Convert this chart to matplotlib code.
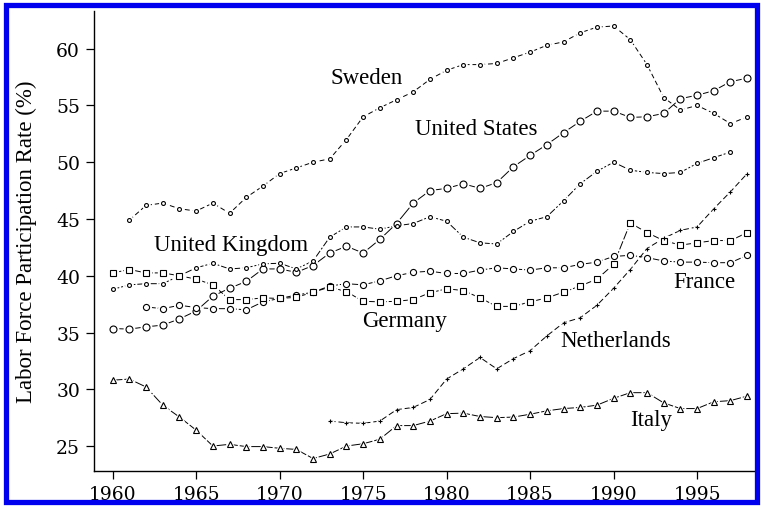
import matplotlib
matplotlib.use("Agg")
import matplotlib.pyplot as plt
from matplotlib.patches import Rectangle

plt.rcParams['font.family'] = ['Liberation Serif', 'DejaVu Serif']

# anni
years_60 = list(range(1960, 1999))
years_61 = list(range(1961, 1999))
years_62 = list(range(1962, 1999))
years_73 = list(range(1973, 1999))
years_uk = list(range(1960, 1998))

sweden = [44.9, 46.2, 46.4, 45.9, 45.7, 46.4, 45.5, 46.9, 47.9, 49.0,
          49.5, 50.0, 50.3, 52.0, 54.0, 54.8, 55.5, 56.2, 57.3, 58.1,
          58.6, 58.6, 58.7, 59.2, 59.7, 60.3, 60.6, 61.4, 61.9, 62.0,
          60.8, 58.6, 55.7, 54.6, 55.0, 54.3, 53.4, 54.0]
us = [35.35, 35.3, 35.5, 35.65, 36.2, 36.9, 38.2, 38.9, 39.5, 40.6,
      40.6, 40.3, 40.9, 42.0, 42.6, 42.0, 43.2, 44.6, 46.4, 47.5,
      47.7, 48.1, 47.7, 48.2, 49.6, 50.6, 51.55, 52.6, 53.6, 54.5,
      54.5, 53.95, 54.0, 54.3, 55.6, 55.9, 56.3, 57.1, 57.4]
uk = [38.8, 39.2, 39.3, 39.3, 40.0, 40.7, 41.1, 40.6, 40.7, 41.05,
      41.1, 40.6, 41.3, 43.4, 44.3, 44.3, 44.1, 44.4, 44.6, 45.2,
      44.8, 43.4, 42.9, 42.8, 43.9, 44.8, 45.2, 46.6, 48.1, 49.2,
      50.0, 49.3, 49.1, 49.0, 49.1, 49.9, 50.4, 50.9]
france = [37.25, 37.1, 37.4, 37.2, 37.1, 37.1, 37.0, 37.7,
          38.0, 38.3, 38.55, 39.1, 39.3, 39.2, 39.55, 40.0, 40.3, 40.4,
          40.2, 40.2, 40.5, 40.7, 40.6, 40.5, 40.7, 40.7, 41.0, 41.2,
          41.7, 41.8, 41.6, 41.3, 41.2, 41.2, 41.15, 41.15, 41.8]
germany = [40.25, 40.55, 40.25, 40.25, 40.0, 39.7, 39.2, 37.9, 37.9, 38.05,
           38.0, 38.1, 38.55, 39.0, 38.6, 37.75, 37.7, 37.75, 37.9, 38.5,
           38.85, 38.7, 38.05, 37.3, 37.3, 37.7, 38.05, 38.55, 39.1, 39.7,
           41.0, 44.65, 43.8, 43.1, 42.7, 42.9, 43.1, 43.1, 43.8]
netherlands = [27.2, 27.05, 27.0, 27.2, 28.2, 28.4, 29.1,
               30.9, 31.8, 32.8, 31.8, 32.7, 33.4, 34.7, 35.85, 36.3, 37.4,
               38.9, 40.55, 42.4, 43.3, 44.0, 44.3, 45.9, 47.4, 49.0]
italy = [30.8, 30.9, 30.2, 28.6, 27.55, 26.4, 25.0, 25.15, 24.95, 24.95,
         24.8, 24.7, 23.9, 24.3, 25.0, 25.2, 25.6, 26.8, 26.8, 27.2,
         27.85, 27.9, 27.6, 27.5, 27.55, 27.8, 28.1, 28.3, 28.4, 28.6,
         29.2, 29.7, 29.7, 28.8, 28.3, 28.3, 28.9, 29.0, 29.4]

xticks = [1960, 1965, 1970, 1975, 1980, 1985, 1990, 1995]
yticks = [25, 30, 35, 40, 45, 50, 55, 60]

fig = plt.figure(figsize=(7.61, 5.10), dpi=100)
ax = fig.add_axes([0.1235, 0.0745, 0.8715, 0.9015])

def serie(x, y, marker, ms, dashes, lw=0.7):
    # linea, poi un alone bianco attorno ai punti (come type="b" di R), poi i marker
    if dashes is None:
        ax.plot(x, y, color='black', lw=lw, zorder=2)
    else:
        ax.plot(x, y, color='black', lw=lw, dashes=dashes, zorder=2)
    ax.plot(x, y, ls='none', marker=marker, ms=ms + 2.5, mfc='white',
            mec='white', zorder=3)
    ax.plot(x, y, ls='none', marker=marker, ms=ms, mfc='white',
            mec='black', mew=0.8, zorder=4)

serie(years_61, sweden, 'o', 2.8, (5, 3))
serie(years_60, us, 'o', 5.0, None)
serie(years_uk, uk, 'o', 2.8, (7, 2, 2, 2))
serie(years_62, france, 'o', 4.4, (10, 2))
serie(years_60, germany, 's', 4.4, (9, 2))
serie(years_73, netherlands, '+', 3.0, (6, 3))
serie(years_60, italy, '^', 4.6, (10, 2))

etichette = [
    ('Sweden', 1973.05, 57.45),
    ('United States', 1978.1, 52.95),
    ('United Kingdom', 1962.45, 42.75),
    ('France', 1993.55, 39.5),
    ('Germany', 1974.95, 36.1),
    ('Netherlands', 1986.8, 34.3),
    ('Italy', 1991.0, 27.3),
]
for testo, tx, ty in etichette:
    ax.text(tx, ty, testo, fontsize=16.5, ha='left', va='center', zorder=5)

ax.set_xlim(1958.88, 1998.6)
ax.set_ylim(22.8, 63.3)
ax.set_xticks(xticks)
ax.set_yticks(yticks)
ax.tick_params(axis='both', direction='out', length=6, width=0.9, pad=4)
for lab in ax.get_xticklabels() + ax.get_yticklabels():
    lab.set_fontfamily(['DejaVu Serif'])
    lab.set_fontsize(13.5)
for lato in ['top', 'right']:
    ax.spines[lato].set_visible(False)
for lato in ['left', 'bottom']:
    ax.spines[lato].set_linewidth(1.0)
ax.set_ylabel('Labor Force Participation Rate (%)', fontsize=16.5)
ax.yaxis.set_label_coords(-0.086, 0.5)

# cornice blu attorno all'immagine
fig.patches.append(Rectangle((6 / 761, 7 / 510), 751 / 761, 497 / 510,
                             transform=fig.transFigure, fill=False,
                             edgecolor='#0000ee', lw=3.8, zorder=10))

fig.savefig('out.png', dpi=100)
